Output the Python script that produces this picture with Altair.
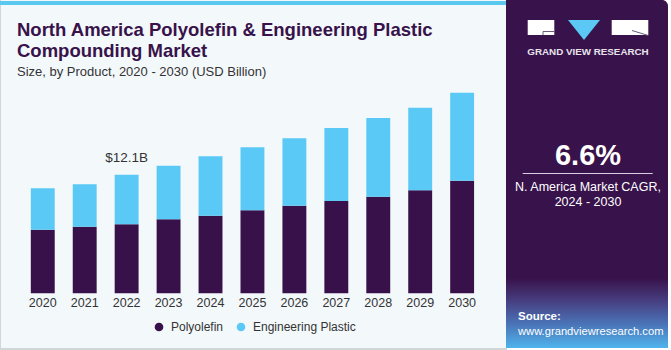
import altair as alt
import pandas as pd

# ---------------- data ----------------
years = ["2020", "2021", "2022", "2023", "2024", "2025", "2026", "2027", "2028", "2029", "2030"]
polyolefin = [6.49, 6.80, 7.04, 7.55, 7.92, 8.47, 8.94, 9.42, 9.86, 10.51, 11.49]
engineering = [4.22, 4.32, 5.06, 5.47, 6.06, 6.43, 6.88, 7.45, 8.03, 8.43, 8.98]
segments = ["Polyolefin", "Engineering Plastic"]
seg_colors = ["#38104a", "#5bc9f5"]
annot_year = "2022"
annot_label = "$12.1B"

title_1 = "North America Polyolefin & Engineering Plastic"
title_2 = "Compounding Market"
subtitle = "Size, by Product, 2020 - 2030 (USD Billion)"
cagr = "6.6%"
cagr_l1 = "N. America Market CAGR,"
cagr_l2 = "2024 - 2030"
brand = "GRAND VIEW RESEARCH"
src_1 = "Source:"
src_2 = "www.grandviewresearch.com"

W, H = 671, 350
FONT = "Liberation Sans"
PURPLE = "#38124a"

rows = []
for i, yr in enumerate(years):
    rows.append({"year": yr, "segment": segments[0], "value": polyolefin[i], "ord": 0})
    rows.append({"year": yr, "segment": segments[1], "value": engineering[i], "ord": 1})
df = pd.DataFrame(rows)

ai = years.index(annot_year)
ann_df = pd.DataFrame({"year": [annot_year], "total": [polyolefin[ai] + engineering[ai]], "label": [annot_label]})
year_df = pd.DataFrame({"year": years})

xscale = alt.Scale(domain=years, range=[21.8, 483.1], paddingInner=0.43, paddingOuter=0.215)
yscale = alt.Scale(domain=[0, 20], range=[293.3, 97.3], nice=False, zero=True)

one = alt.Data(values=[{"a": 1}])


def rect(x, x2, y, y2, color, **kw):
    return alt.Chart(one).mark_rect(color=color, **kw).encode(
        x=alt.value(x), x2=alt.value(x2), y=alt.value(y), y2=alt.value(y2))


def rule(x, x2, y, y2, color, width=1):
    return alt.Chart(one).mark_rule(color=color, strokeWidth=width).encode(
        x=alt.value(x), x2=alt.value(x2), y=alt.value(y), y2=alt.value(y2))


def txt(s, x, y, size, color, weight="normal", align="left", baseline="alphabetic", font=FONT):
    return alt.Chart(one).mark_text(
        text=s, fontSize=size, color=color, fontWeight=weight, align=align,
        baseline=baseline, font=font).encode(x=alt.value(x), y=alt.value(y))


# ---------------- background & panels ----------------
bg_border = rect(0, 507, 0, 350, "#d3d6d9")
bg_panel = rect(1, 506, 0, 348, "#f3f8fb")
top_stripe = rect(0, 506, 1, 5, "#5bc8f0")

side = rect(506, 668, 0, 348, PURPLE, cornerRadiusTopRight=6)
grad = alt.LinearGradient(
    gradient="linear", x1=0, y1=0, x2=0, y2=1,
    stops=[alt.GradientStop(color=PURPLE, offset=0),
           alt.GradientStop(color="#463a7c", offset=0.3),
           alt.GradientStop(color="#4a72b6", offset=0.65),
           alt.GradientStop(color="#4fb4ec", offset=1)])
side_grad = rect(506, 668, 278, 348, grad)

# logo
logo_l = rect(527.7, 554.3, 20, 35, "white")
logo_r = rect(611.7, 648.3, 20, 35, "white")
logo_g1 = rule(543, 554.3, 31.5, 31.5, "#6a5a7a", 1)
logo_g2 = rule(543, 543, 31.5, 35, "#6a5a7a", 1)
logo_r1 = rule(632, 648.3, 30.5, 35.5, "#6a5a7a", 1)
tri = alt.Chart(one).mark_point(
    shape="M-1,-0.625L1,-0.625L0,0.625Z", size=1024, filled=True, opacity=1,
    color="#5bc8f5", strokeWidth=0).encode(x=alt.value(584), y=alt.value(30))
brand_t = txt(brand, 588, 55, 9.8, "#e8e4ee", weight="bold", align="center")

cagr_t = txt(cagr, 588, 165, 29, "white", weight="bold", align="center")
cagr_rule = rule(522.7, 652.7, 173.5, 173.5, "#d8d0e0", 1)
cagr_t1 = txt(cagr_l1, 588, 191, 12.5, "white", align="center")
cagr_t2 = txt(cagr_l2, 588, 205.5, 12.5, "white", align="center")

src_t1 = txt(src_1, 518, 320, 11.5, "white", weight="bold")
src_t2 = txt(src_2, 518, 334.5, 11.2, "white")

# titles
t1 = txt(title_1, 17, 36, 18.5, PURPLE, weight="bold")
t2 = txt(title_2, 17, 57.3, 18.5, PURPLE, weight="bold")
st = txt(subtitle, 17, 75.5, 13, "#333333")

# ---------------- bars ----------------
bars = alt.Chart(df).mark_bar().encode(
    x=alt.X("year:N", scale=xscale, axis=None),
    y=alt.Y("value:Q", stack="zero", scale=yscale, axis=None),
    color=alt.Color(
        "segment:N",
        scale=alt.Scale(domain=segments, range=seg_colors),
        legend=alt.Legend(
            title=None, orient="none", legendX=153, legendY=321,
            direction="horizontal", symbolType="circle", symbolSize=75,
            symbolStrokeWidth=0, labelFont=FONT, labelFontSize=12,
            labelColor="#333333", columnPadding=11, labelOffset=6)),
    order=alt.Order("ord:Q", sort="ascending"),
)

year_labels = alt.Chart(year_df).mark_text(
    font=FONT, fontSize=12.5, color="#333333", baseline="middle").encode(
    x=alt.X("year:N", scale=xscale, axis=None),
    y=alt.value(303),
    text="year:N",
)

annot = alt.Chart(ann_df).mark_text(
    font=FONT, fontSize=13.5, color="#333333", baseline="middle", dy=-17).encode(
    x=alt.X("year:N", scale=xscale, axis=None),
    y=alt.Y("total:Q", scale=yscale, axis=None),
    text="label:N",
)

chart = alt.layer(
    bg_border, bg_panel, top_stripe, side, side_grad,
    logo_l, logo_r, logo_g1, logo_g2, logo_r1, tri, brand_t,
    cagr_t, cagr_rule, cagr_t1, cagr_t2, src_t1, src_t2,
    t1, t2, st,
    bars, year_labels, annot,
).properties(
    width=W, height=H, background="white", padding=0,
    autosize=alt.AutoSizeParams(type="none"),
).configure_view(stroke=None)

chart.save("out.html", embed_options={"renderer": "svg", "actions": False})
